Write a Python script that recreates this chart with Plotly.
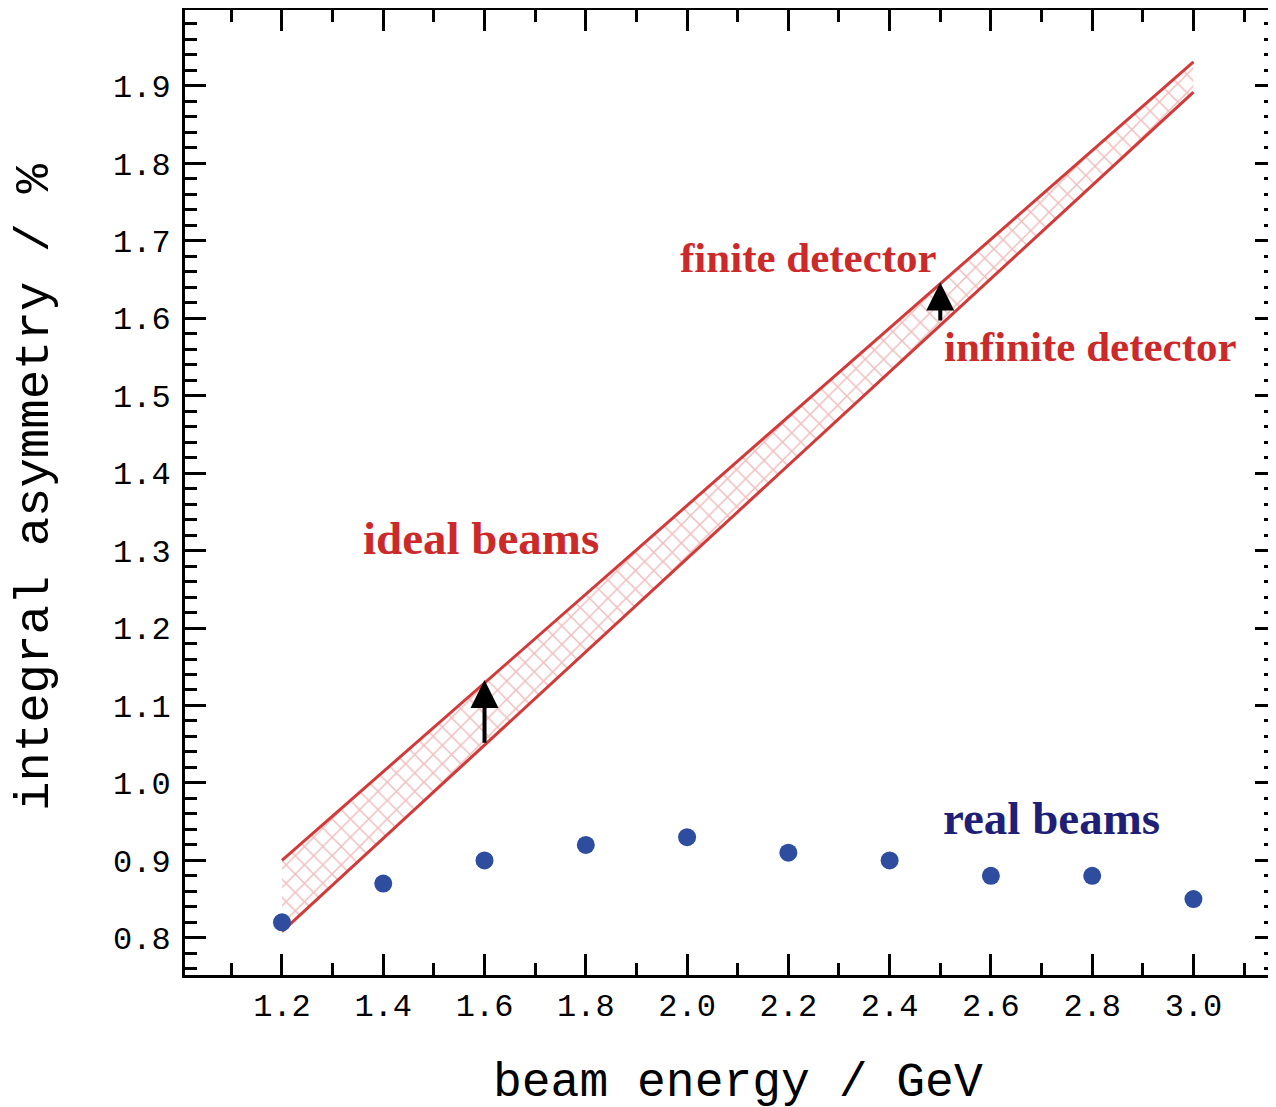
import plotly.graph_objects as go

# ---- data ----
energy = [1.2, 1.4, 1.6, 1.8, 2.0, 2.2, 2.4, 2.6, 2.8, 3.0]
real_asym = [0.82, 0.87, 0.90, 0.92, 0.93, 0.91, 0.90, 0.88, 0.88, 0.85]

band_x = [1.2, 3.0]
band_upper = [0.90, 1.931]   # finite detector
band_lower = [0.808, 1.892]  # infinite detector

arrow_x = [1.6, 2.5]
arrow_from = [1.05, 1.595]
arrow_to = [1.133, 1.646]

x_ticks = [1.2, 1.4, 1.6, 1.8, 2.0, 2.2, 2.4, 2.6, 2.8, 3.0]
y_ticks = [0.8, 0.9, 1.0, 1.1, 1.2, 1.3, 1.4, 1.5, 1.6, 1.7, 1.8, 1.9]

RED = "#d23a3a"
TXT_RED = "#cc2a2a"
NAVY = "#1f1f78"
DOT = "#2e4d9e"

fig = go.Figure()

# hatched band
fig.add_trace(go.Scatter(
    x=band_x + band_x[::-1],
    y=band_lower + band_upper[::-1],
    fill="toself", mode="lines", line=dict(width=0, color="rgba(0,0,0,0)"),
    fillcolor="white",
    fillpattern=dict(shape="x", size=13, solidity=0.22, fgcolor="#e07c7c", bgcolor="white"),
    hoverinfo="skip", showlegend=False))

fig.add_trace(go.Scatter(x=band_x, y=band_upper, mode="lines",
                         line=dict(color=RED, width=3), showlegend=False))
fig.add_trace(go.Scatter(x=band_x, y=band_lower, mode="lines",
                         line=dict(color=RED, width=3), showlegend=False))

fig.add_trace(go.Scatter(x=energy, y=real_asym, mode="markers",
                         marker=dict(color=DOT, size=18), showlegend=False))

annotations = []
for xa, y0, y1 in zip(arrow_x, arrow_from, arrow_to):
    annotations.append(dict(x=xa, y=y1, ax=xa, ay=y0, xref="x", yref="y",
                            axref="x", ayref="y", text="", showarrow=True,
                            arrowhead=2, arrowsize=1.4, arrowwidth=4,
                            arrowcolor="black", standoff=0, startstandoff=0))

serif = "Liberation Serif, Times New Roman, serif"
labels = [
    ("finite detector", 2.239, 1.678, 43, TXT_RED),
    ("infinite detector", 2.796, 1.564, 43, TXT_RED),
    ("ideal beams", 1.593, 1.316, 47, TXT_RED),
    ("real beams", 2.719, 0.955, 47, NAVY),
]
for t, xx, yy, sz, col in labels:
    annotations.append(dict(x=xx, y=yy, xref="x", yref="y", text="<b>%s</b>" % t,
                            showarrow=False, xanchor="center", yanchor="middle",
                            font=dict(family=serif, size=sz, color=col)))

mono = "Liberation Mono, DejaVu Sans Mono, monospace"
annotations.append(dict(x=(738 - 185) / 1091, y=(975 - 1083) / 965, xref="paper", yref="paper",
                        text="beam energy / GeV", showarrow=False, xanchor="center",
                        yanchor="middle", font=dict(family=mono, size=48, color="black")))
annotations.append(dict(x=(35 - 185) / 1091, y=(975 - 487) / 965, xref="paper", yref="paper",
                        text="integral asymmetry / %", showarrow=False, textangle=-90,
                        xanchor="center", yanchor="middle",
                        font=dict(family=mono, size=49, color="black")))

axis_common = dict(showline=True, linewidth=3, linecolor="black", mirror="allticks",
                   ticks="inside", ticklen=21, tickwidth=3, tickcolor="black",
                   showgrid=False, zeroline=False, automargin=False,
                   tickfont=dict(family=mono, size=32, color="black"))

fig.update_xaxes(range=[1.0085, 3.163], tickvals=x_ticks,
                 ticktext=["%.1f" % v for v in x_ticks],
                 minor=dict(dtick=0.1, tick0=1.1, ticks="inside", ticklen=12,
                            tickwidth=3, tickcolor="black", showgrid=False),
                 **axis_common)
fig.update_yaxes(range=[0.752, 1.998], tickvals=y_ticks,
                 ticktext=["%.1f" % v for v in y_ticks],
                 ticklabelstandoff=5,
                 minor=dict(dtick=0.02, tick0=0.76, ticks="inside", ticklen=12,
                            tickwidth=3, tickcolor="black", showgrid=False),
                 **axis_common)

# page body has an 8px default margin, so the figure is offset by (8, 8)
fig.update_layout(width=1268, height=1099,
                  margin=dict(l=177, r=0, t=2, b=132, pad=0, autoexpand=False),
                  plot_bgcolor="white", paper_bgcolor="white",
                  annotations=annotations, showlegend=False)

fig.write_html("out.html")
